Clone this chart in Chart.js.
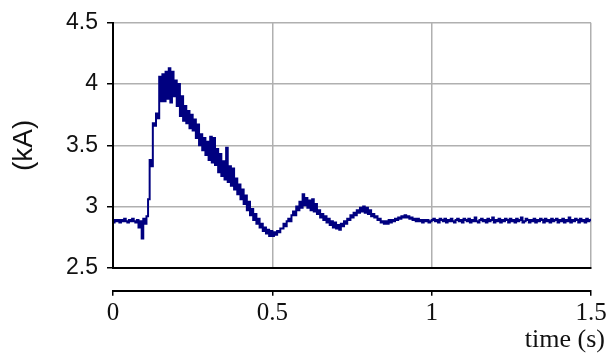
<!DOCTYPE html>
<html>
<head>
<meta charset="utf-8">
<script src="https://cdn.jsdelivr.net/npm/chart.js@4"></script>
<style>
    html, body { margin: 0; padding: 0; background: #fff; }
    #wrap { width: 613px; height: 356px; }
</style>
</head>
<body>
<div id="wrap"><canvas id="currentChart" width="613" height="356"></canvas></div>
<script>
// recorded current, one sample every 5 ms (kA)
const sampleStep = 0.005;
const current = [
    2.87, 2.89, 2.88, 2.89, 2.87, 2.89, 2.88, 2.90, 2.88, 2.87,
    2.89, 2.88, 2.90, 2.88, 2.87, 2.89, 2.83, 2.88, 2.74, 2.90,
    2.86, 2.92, 3.06, 3.38, 3.33, 3.68, 3.66, 3.76, 3.72, 4.06,
    3.86, 4.08, 3.86, 4.10, 3.88, 4.13, 3.85, 4.10, 3.90, 4.03,
    3.82, 4.00, 3.74, 3.90, 3.70, 3.82, 3.68, 3.78, 3.64, 3.75,
    3.62, 3.71, 3.56, 3.67, 3.50, 3.59, 3.46, 3.56, 3.42, 3.53,
    3.38, 3.57, 3.36, 3.56, 3.34, 3.47, 3.28, 3.43, 3.25, 3.37,
    3.22, 3.48, 3.20, 3.33, 3.17, 3.31, 3.14, 3.23, 3.10, 3.18,
    3.06, 3.14, 3.02, 3.09, 2.97, 3.04, 2.93, 2.98, 2.89, 2.94,
    2.86, 2.90, 2.83, 2.86, 2.80, 2.83, 2.78, 2.81, 2.76, 2.80,
    2.76, 2.79, 2.77, 2.80, 2.79, 2.82, 2.82, 2.86, 2.84, 2.88,
    2.90, 2.88, 2.93, 2.96, 2.93, 3.00, 2.97, 3.04, 2.99, 3.10,
    3.01, 3.07, 2.99, 3.05, 2.97, 3.06, 2.96, 3.02, 2.94, 2.97,
    2.91, 2.94, 2.89, 2.92, 2.87, 2.90, 2.85, 2.88, 2.83, 2.87,
    2.82, 2.85, 2.81, 2.86, 2.84, 2.88, 2.86, 2.90, 2.89, 2.93,
    2.91, 2.95, 2.93, 2.97, 2.95, 2.99, 2.96, 3.00, 2.95, 2.99,
    2.94, 2.97, 2.92, 2.94, 2.91, 2.92, 2.89, 2.90, 2.87, 2.88,
    2.86, 2.88, 2.86, 2.89, 2.87, 2.89, 2.88, 2.90, 2.89, 2.91,
    2.90, 2.92, 2.91, 2.93, 2.91, 2.92, 2.90, 2.91, 2.89, 2.90,
    2.88, 2.90, 2.88, 2.89, 2.87, 2.89, 2.88, 2.89, 2.87, 2.88,
    2.89,
    2.90, 2.88, 2.89, 2.87, 2.90, 2.89, 2.88, 2.90, 2.87, 2.89,
    2.88, 2.90, 2.88, 2.87, 2.89, 2.90, 2.88, 2.89, 2.87, 2.90,
    2.89, 2.88, 2.90, 2.87, 2.89, 2.88, 2.91, 2.88, 2.87, 2.89,
    2.90, 2.88, 2.89, 2.87, 2.90, 2.88, 2.89, 2.91, 2.87, 2.89,
    2.88, 2.90, 2.87, 2.89, 2.88, 2.90, 2.89, 2.87, 2.90, 2.88,
    2.89, 2.87, 2.90, 2.88, 2.89, 2.91, 2.87, 2.88, 2.90, 2.89,
    2.87, 2.89, 2.88, 2.90, 2.87, 2.89, 2.88, 2.90, 2.89, 2.87,
    2.90, 2.88, 2.89, 2.87, 2.90, 2.88, 2.89, 2.90, 2.87, 2.89,
    2.88, 2.90, 2.87, 2.89, 2.88, 2.91, 2.87, 2.89, 2.88, 2.90,
    2.89, 2.87, 2.90, 2.88, 2.89, 2.87, 2.90, 2.88, 2.89, 2.90
];

const timeRange = [0, 1.5];
const timeStep = 0.5;
const currentRange = [2.5, 4.5];
const currentStep = 0.5;
const xTitle = 'time (s)';
const yTitle = '(kA)';

const gridGray = '#b0b0b0';
const inkColor = '#111';

// plain number labels: 0, 0.5, 1, 1.5 (no trailing zeros)
const plainLabel = (value) => String(Math.round(value * 10) / 10);

const ctx = document.getElementById('currentChart');

new Chart(ctx, {
    type: 'line',
    data: {
        datasets: [{
            data: current.map((v, i) => ({ x: i * sampleStep, y: v })),
            borderColor: '#000080',
            borderWidth: 2,
            pointRadius: 0,
            stepped: true,
            fill: false,
            xAxisID: 'x',
            yAxisID: 'y'
        }]
    },
    options: {
        responsive: false,
        animation: false,
        layout: { padding: { top: 20, right: 8, bottom: 0, left: 0 } },
        plugins: {
            legend: { display: false },
            tooltip: { enabled: false },
            title: {
                display: true,
                text: xTitle,
                position: 'bottom',
                align: 'end',
                color: inkColor,
                font: { family: 'Liberation Serif', size: 26, weight: 'normal' },
                padding: { top: 0, bottom: 0 }
            }
        },
        scales: {
            x: {
                type: 'linear',
                position: 'bottom',
                weight: 0,
                min: timeRange[0],
                max: timeRange[1],
                ticks: { display: false, stepSize: timeStep },
                grid: { color: gridGray, lineWidth: 1.5, drawTicks: false },
                border: { color: '#000', width: 2, z: 1 },
                afterFit: (scale) => { scale.height = 23; }
            },
            x2: {
                type: 'linear',
                position: 'bottom',
                weight: 1,
                min: timeRange[0],
                max: timeRange[1],
                ticks: {
                    stepSize: timeStep,
                    color: inkColor,
                    padding: 3,
                    maxRotation: 0,
                    callback: plainLabel,
                    font: { family: 'Liberation Serif', size: 25 }
                },
                grid: { drawOnChartArea: false, tickLength: 5, color: '#000', lineWidth: 1.5 },
                border: { color: '#000', width: 2 },
                afterFit: (scale) => { scale.height = 34; scale.paddingRight = 22; }
            },
            y: {
                min: currentRange[0],
                max: currentRange[1],
                ticks: {
                    stepSize: currentStep,
                    color: inkColor,
                    padding: 9,
                    callback: plainLabel,
                    font: { family: 'Liberation Sans', size: 23 }
                },
                grid: { color: gridGray, lineWidth: 1.5, tickLength: 6, tickColor: '#000' },
                border: { color: '#000', width: 2, z: 1 },
                title: {
                    display: true,
                    text: yTitle,
                    color: inkColor,
                    font: { family: 'Liberation Sans', size: 28 },
                    padding: { top: 7, bottom: 0 }
                },
                afterFit: (scale) => { scale.width = 113; }
            }
        }
    }
});
</script>
</body>
</html>
